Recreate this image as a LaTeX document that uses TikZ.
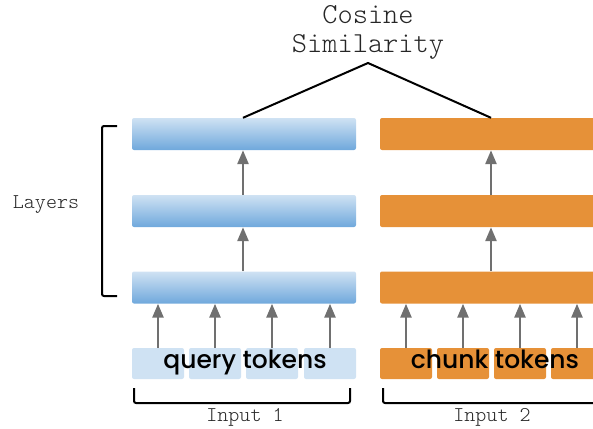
\documentclass[tikz,border=0pt]{standalone}
\usepackage{fontspec}
\newfontfamily\tokfont{Poppins}[UprightFont={* Medium}]
\IfFontExistsTF{Latin Modern Mono Light}{\newfontfamily\monofont{Latin Modern Mono Light}}{\newcommand\monofont{\ttfamily}}
\usetikzlibrary{arrows.meta}
\definecolor{barlight}{HTML}{CFE2F3}
\definecolor{bardark}{HTML}{6FA8DC}
\definecolor{tokblue}{HTML}{CFE2F3}
\definecolor{orng}{HTML}{E69138}
\definecolor{arrgray}{HTML}{707070}
\tikzset{
  bluebar/.style={rectangle, rounded corners=2pt, minimum width=224pt, minimum height=32pt, inner sep=0pt, top color=barlight, bottom color=bardark, draw=none},
  orangebar/.style={rectangle, rounded corners=2pt, minimum width=224pt, minimum height=32pt, inner sep=0pt, fill=orng, draw=none},
  bluetok/.style={rectangle, rounded corners=2pt, minimum width=52pt, minimum height=31pt, inner sep=0pt, fill=tokblue},
  orangetok/.style={rectangle, rounded corners=2pt, minimum width=52pt, minimum height=31pt, inner sep=0pt, fill=orng},
  uparrow/.style={draw=arrgray, line width=2.6pt, -{Triangle[length=14pt,width=11pt]}, fill=arrgray},
  bracketline/.style={draw=black, line width=2pt, rounded corners=2pt},
  monolabel/.style={font=\monofont\fontsize{21}{24}\selectfont, inner sep=0pt, text=black!85},
  toklabel/.style={font=\tokfont\fontsize{25}{28}\selectfont, inner sep=0pt, anchor=base},
}
\begin{document}
\begin{tikzpicture}[x=1pt,y=-1pt]
\clip (0,0) rectangle (593,428);
\useasboundingbox (0,0) rectangle (593,428);
% layers
\node[bluebar] (b3) at (244,134) {};
\node[bluebar] (b2) at (244,211) {};
\node[bluebar] (b1) at (244,287.5) {};
\node[orangebar] (o3) at (492,134) {};
\node[orangebar] (o2) at (492,211) {};
\node[orangebar] (o1) at (492,287.5) {};
% tokens
\node[bluetok] (q1) at (158,363.5) {};
\node[bluetok] (q2) at (215,363.5) {};
\node[bluetok] (q3) at (272,363.5) {};
\node[bluetok] (q4) at (330,363.5) {};
\node[orangetok] (c1) at (406,363.5) {};
\node[orangetok] (c2) at (463,363.5) {};
\node[orangetok] (c3) at (520,363.5) {};
\node[orangetok] (c4) at (577,363.5) {};
\node[toklabel] (qt) at (245,368) {query tokens};
\node[toklabel] (ct) at (495,368) {chunk tokens};
% arrows
\foreach \t in {q1,q2,q3,q4} \draw[uparrow] (\t.north) -- (\t.north |- b1.south);
\foreach \t in {c1,c2,c3,c4} \draw[uparrow] (\t.north) -- (\t.north |- o1.south);
\draw[uparrow] ([xshift=-1pt]b1.north) -- ([xshift=-1pt]b2.south);
\draw[uparrow] ([xshift=-1pt]b2.north) -- ([xshift=-1pt]b3.south);
\draw[uparrow] ([xshift=-1pt]o1.north) -- ([xshift=-1pt]o2.south);
\draw[uparrow] ([xshift=-1pt]o2.north) -- ([xshift=-1pt]o3.south);
% cosine similarity
\node[font=\monofont\fontsize{29}{29}\selectfont, align=center, inner sep=0pt, text=black!85] (cos) at (368,32) {Cosine\\Similarity};
\coordinate (apex) at (368,63);
\draw[line width=2pt] ([xshift=-1pt]b3.north) -- (apex) -- ([xshift=-1pt]o3.north);
% brackets
\coordinate (lt) at (117,126);
\coordinate (lb) at (117,296);
\draw[bracketline] (lt) -- (102,126) -- (102,296) -- (lb);
\node[monolabel] (layers) at (46,205) {Layers};
\coordinate (i1a) at (134,388);
\coordinate (i1b) at (350,388);
\draw[bracketline] (i1a) -- (134,403) -- (350,403) -- (i1b);
\node[monolabel] (in1) at (245,417) {Input 1};
\coordinate (i2a) at (383,388);
\coordinate (i2b) at (610,388);
\draw[bracketline] (i2a) -- (383,403) -- (610,403) -- (i2b);
\node[monolabel] (in2) at (492,417) {Input 2};
\end{tikzpicture}
\end{document}
